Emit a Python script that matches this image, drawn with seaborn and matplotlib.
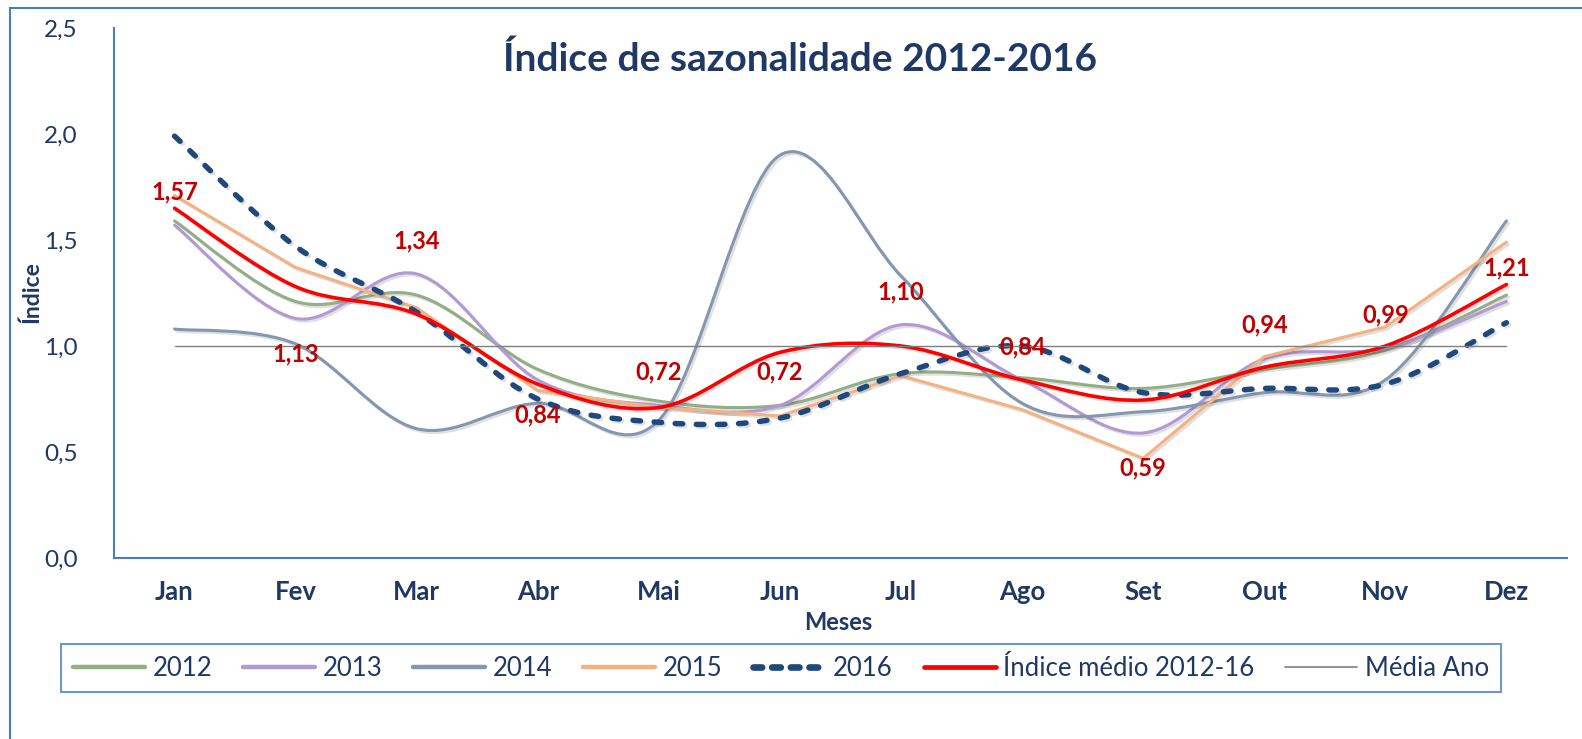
import numpy as np
import pandas as pd
import matplotlib
matplotlib.use("Agg")
import matplotlib.pyplot as plt
import seaborn as sns
from matplotlib.path import Path
from matplotlib.patches import PathPatch, Rectangle
from matplotlib.lines import Line2D
from matplotlib.ticker import FuncFormatter, FixedLocator
import matplotlib.patheffects as pe

# ---------------- data ----------------
months = ["Jan", "Fev", "Mar", "Abr", "Mai", "Jun", "Jul", "Ago", "Set", "Out", "Nov", "Dez"]
s2012 = [1.59, 1.21, 1.24, 0.89, 0.74, 0.72, 0.87, 0.85, 0.80, 0.89, 0.98, 1.24]
s2013 = [1.57, 1.13, 1.34, 0.84, 0.72, 0.72, 1.10, 0.84, 0.59, 0.94, 0.99, 1.21]
s2014 = [1.08, 1.01, 0.61, 0.73, 0.65, 1.90, 1.33, 0.73, 0.69, 0.78, 0.84, 1.59]
s2015 = [1.71, 1.37, 1.18, 0.79, 0.71, 0.67, 0.86, 0.70, 0.47, 0.95, 1.09, 1.49]
s2016 = [1.99, 1.47, 1.16, 0.75, 0.64, 0.66, 0.87, 1.00, 0.78, 0.80, 0.82, 1.11]
indice_medio = [1.65, 1.28, 1.15, 0.82, 0.71, 0.97, 1.00, 0.84, 0.745, 0.90, 1.00, 1.29]
media_ano = [1.0] * 12
label_side = ["above", "below", "above", "below", "above", "above",
              "above", "above", "below", "above", "above", "above"]
yticks = [0.0, 0.5, 1.0, 1.5, 2.0, 2.5]

title = "Índice de sazonalidade 2012-2016"
series_names = ["2012", "2013", "2014", "2015", "2016", "Índice médio 2012-16", "Média Ano"]

# ---------------- style ----------------
NAVY = "#1f3864"
BLUE = "#4a7ebb"
C2012 = "#93ad85"
C2013 = "#b399d3"
C2014 = "#8497b0"
C2015 = "#f4b183"
C2016 = "#1f497d"
CRED = "#ff0000"
CGRAY = "#7f7f7f"
CLAB = "#c00000"

sns.set_theme(style="white")
plt.rcParams["font.family"] = ["Lato", "DejaVu Sans"]

fig = plt.figure(figsize=(15.82, 7.39), dpi=100)
ax = fig.add_axes([114 / 1582, 1 - 558 / 739, (1567 - 114) / 1582, (558 - 28) / 739])

x = np.arange(len(months))


def smooth_path(xs, ys):
    n = len(xs)
    verts = [(xs[0], ys[0])]
    codes = [Path.MOVETO]
    for i in range(n - 1):
        x0, y0 = xs[max(i - 1, 0)], ys[max(i - 1, 0)]
        x1, y1 = xs[i], ys[i]
        x2, y2 = xs[i + 1], ys[i + 1]
        x3, y3 = xs[min(i + 2, n - 1)], ys[min(i + 2, n - 1)]
        c1 = (x1 + (x2 - x0) / 6.0, y1 + (y2 - y0) / 6.0)
        c2 = (x2 - (x3 - x1) / 6.0, y2 - (y3 - y1) / 6.0)
        verts += [c1, c2, (x2, y2)]
        codes += [Path.CURVE4] * 3
    return Path(verts, codes)


shadow = [pe.SimpleLineShadow(offset=(1.5, -1.5), shadow_color="black", alpha=0.12), pe.Normal()]


def add_smooth(ys, color, lw, ls="solid", z=2):
    p = PathPatch(smooth_path(x, np.asarray(ys, float)), facecolor="none", edgecolor=color,
                  lw=lw, linestyle=ls, capstyle="round", joinstyle="round", zorder=z)
    p.set_path_effects(shadow)
    ax.add_patch(p)


add_smooth(s2012, C2012, 2.2, z=2)
add_smooth(s2013, C2013, 2.2, z=2.1)
add_smooth(s2014, C2014, 2.2, z=2.2)

df15 = pd.DataFrame({"x": x, "v": s2015})
sns.lineplot(data=df15, x="x", y="v", ax=ax, color=C2015, lw=2.2, zorder=2.3,
             path_effects=shadow)
for ln in ax.lines:
    ln.set_solid_joinstyle("miter")

add_smooth(s2016, C2016, 3.9, ls=(0, (1.4, 2.5)), z=2.4)
add_smooth(indice_medio, CRED, 2.6, z=2.5)

dfm = pd.DataFrame({"x": x, "v": media_ano})
sns.lineplot(data=dfm, x="x", y="v", ax=ax, color=CGRAY, lw=1.0, zorder=2.6)

# data labels (values of 2013)
for xi, v, side in zip(x, s2013, label_side):
    off = 24.0 if side == "above" else -25.5
    ax.annotate(f"{v:.2f}".replace(".", ","), (xi, v), xytext=(0, off),
                textcoords="offset points", ha="center", va="center",
                color=CLAB, fontsize=17, fontweight="bold", zorder=5)

# axes styling
ax.set_xlim(-0.5, len(months) - 0.5)
ax.set_ylim(0, 2.5)
ax.set_xlabel("")
ax.set_ylabel("")
ax.set_xticks(x)
ax.set_xticklabels(months)
ax.xaxis.set_minor_locator(FixedLocator(np.arange(-0.5, len(months), 1.0)))
ax.tick_params(axis="x", which="major", length=0, pad=16, labelsize=18.5, labelcolor=NAVY)
for t in ax.get_xticklabels():
    t.set_fontweight("bold")
ax.tick_params(axis="x", which="minor", length=5.5, width=1.4, color=BLUE, direction="out")
ax.set_yticks(yticks)
ax.yaxis.set_major_formatter(FuncFormatter(lambda v, p: f"{v:.1f}".replace(".", ",")))
ax.tick_params(axis="y", length=0, pad=26, labelsize=17.5, labelcolor=NAVY)
for s in ["top", "right"]:
    ax.spines[s].set_visible(False)
for s in ["left", "bottom"]:
    ax.spines[s].set_color(BLUE)
    ax.spines[s].set_linewidth(1.5)
ax.grid(False)
ax.set_facecolor("none")

# titles
fig.text(800 / 1582, 1 - 59 / 739, title, ha="center", va="center", fontsize=28,
         fontweight="bold", color=NAVY)
fig.text(31.5 / 1582, 1 - 292 / 739, "Índice", rotation=90, ha="center", va="center",
         fontsize=16.5, fontweight="bold", color=NAVY)
fig.text(838 / 1582, 1 - 623 / 739, "Meses", ha="center", va="center",
         fontsize=17, fontweight="bold", color=NAVY)

# legend
handles = [
    Line2D([], [], color=C2012, lw=3.2, solid_capstyle="round"),
    Line2D([], [], color=C2013, lw=3.2, solid_capstyle="round"),
    Line2D([], [], color=C2014, lw=3.2, solid_capstyle="round"),
    Line2D([], [], color=C2015, lw=3.2, solid_capstyle="round"),
    Line2D([], [], color=C2016, lw=4.8, linestyle=(0, (1.3, 1.5)), dash_capstyle="round"),
    Line2D([], [], color=CRED, lw=3.4, solid_capstyle="round"),
    Line2D([], [], color=CGRAY, lw=1.2),
]
leg = fig.legend(handles, series_names, loc="center", bbox_to_anchor=(781 / 1582, 1 - 668 / 739),
                 ncol=7, frameon=True, fancybox=False, fontsize=18.5, handlelength=2.8,
                 handletextpad=0.3, columnspacing=1.2, borderpad=0.45)
leg.get_frame().set_edgecolor(BLUE)
leg.get_frame().set_linewidth(1.5)
for t in leg.get_texts():
    t.set_color(NAVY)

# outer chart border
fig.patches.append(Rectangle((10 / 1582, -0.05), 1.1, 1 - 8 / 739 + 0.05, transform=fig.transFigure,
                             fill=False, edgecolor=BLUE, lw=1.5, zorder=0))

fig.savefig("out.png", dpi=100)
